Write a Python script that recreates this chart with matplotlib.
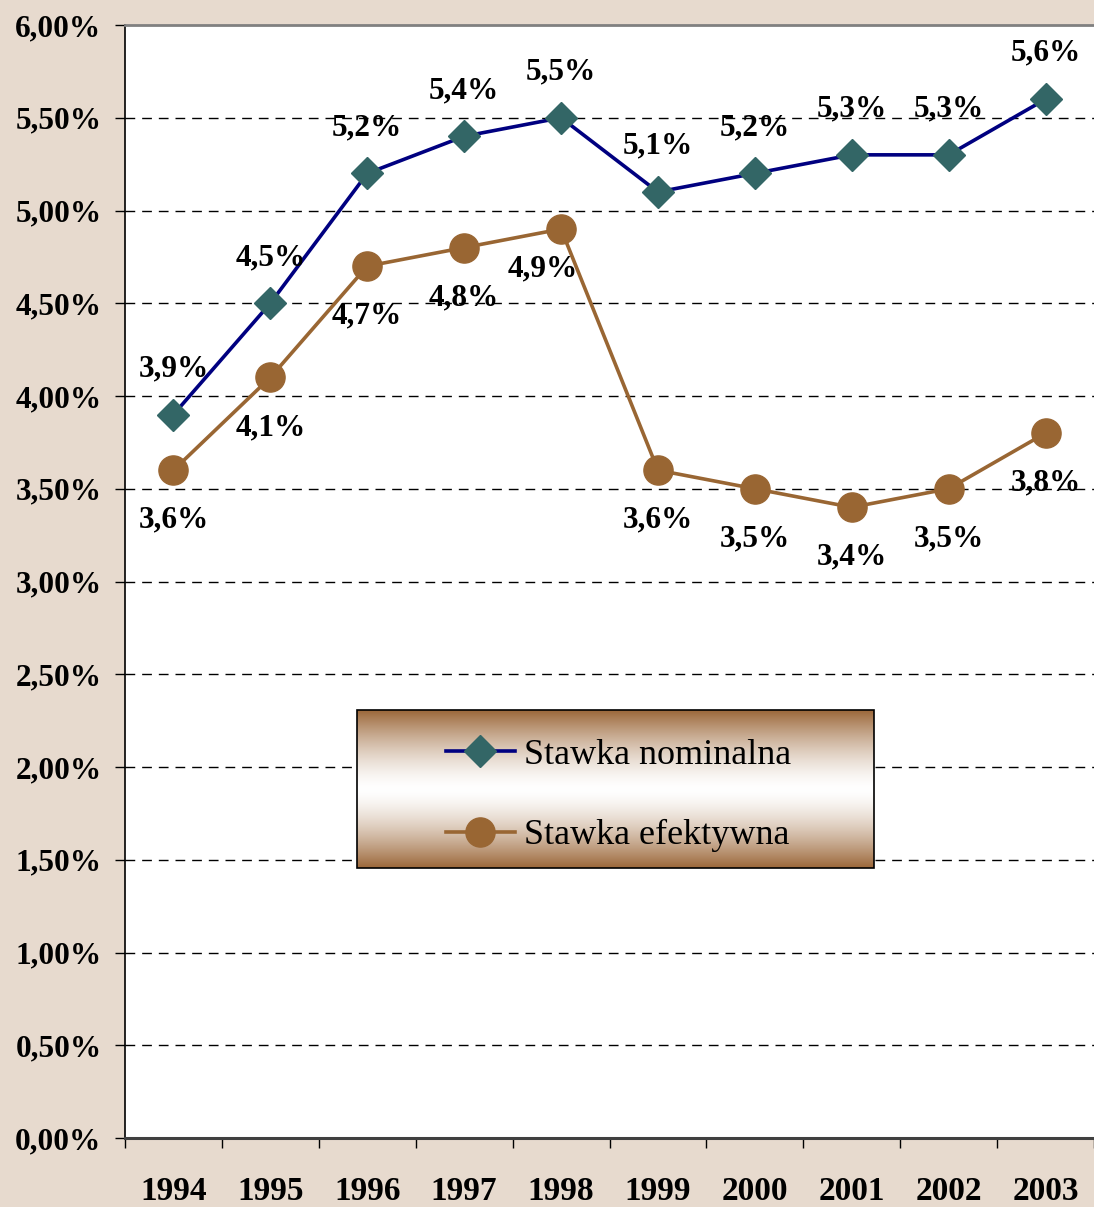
import numpy as np
import matplotlib
matplotlib.use("Agg")
import matplotlib.pyplot as plt
from matplotlib.lines import Line2D
from matplotlib.patches import Rectangle

years = ["1994", "1995", "1996", "1997", "1998", "1999", "2000", "2001", "2002", "2003"]
nominal = [3.9, 4.5, 5.2, 5.4, 5.5, 5.1, 5.2, 5.3, 5.3, 5.6]
effective = [3.6, 4.1, 4.7, 4.8, 4.9, 3.6, 3.5, 3.4, 3.5, 3.8]
yticks = [0, 0.5, 1.0, 1.5, 2.0, 2.5, 3.0, 3.5, 4.0, 4.5, 5.0, 5.5, 6.0]
series_names = ["Stawka nominalna", "Stawka efektywna"]

def pct(v, d):
    return (f"{v:.{d}f}%").replace(".", ",")

plt.rcParams['font.family'] = ['Liberation Serif', 'DejaVu Serif']

W, H = 1094, 1207
fig = plt.figure(figsize=(W / 100, H / 100), dpi=100, facecolor='#E7DACE')
ax = fig.add_axes([125 / W, 1 - 1138 / H, 1 - 125 / W, (1138 - 25) / H])
ax.set_facecolor('white')

x = np.arange(len(years))
ax.set_xlim(-0.5, len(years) - 0.5)
ax.set_ylim(0, 6)

# grid
for yv in yticks[1:-1]:
    ax.axhline(yv, color='black', lw=1, ls=(0, (7, 5)), zorder=1)

ax.plot(x, nominal, color='#000080', lw=2.6, marker='D', ms=16, mfc='#336666',
        mec='#336666', zorder=4, label=series_names[0])
ax.plot(x, effective, color='#996633', lw=2.6, marker='o', ms=21, mfc='#996633',
        mec='#996633', zorder=3, label=series_names[1])

lab_kw = dict(ha='center', va='center', fontsize=22.5, fontweight='bold',
              textcoords='offset points', zorder=6)
for i, v in enumerate(nominal):
    ax.annotate(pct(v, 1), (x[i], v), xytext=(0, 33), **lab_kw)
for i, v in enumerate(effective):
    dx, dy = (0, -36)
    if i == 4:
        dx, dy = (-13, -29)
    ax.annotate(pct(v, 1), (x[i], v), xytext=(dx, dy), **lab_kw)

# axes styling
ax.spines['right'].set_visible(False)
ax.spines['top'].set_color('#808080')
ax.spines['top'].set_linewidth(2)
ax.spines['left'].set_color('black')
ax.spines['left'].set_linewidth(1.2)
ax.spines['bottom'].set_color('#404040')
ax.spines['bottom'].set_linewidth(2.2)

ax.set_yticks(yticks)
ax.set_yticklabels([pct(v, 2) for v in yticks], fontsize=22.5, fontweight='bold')
ax.tick_params(axis='y', direction='out', length=7, width=1, pad=10)

ax.set_xticks(x)
ax.set_xticklabels(years, fontsize=24, fontweight='bold')
ax.set_xticks(np.arange(-0.5, len(years)), minor=True)
ax.tick_params(axis='x', which='major', length=0, pad=27)
ax.tick_params(axis='x', which='minor', direction='out', length=7, width=1)

# legend box with gradient
bx0, bx1 = 1.897, 7.226
by0, by1 = 1.456, 2.307
n = 200
t = np.abs(np.linspace(-1, 1, n))
t = t ** 1.5
brown = np.array([0x9C, 0x68, 0x3A]) / 255.0
white = np.array([1.0, 1.0, 1.0])
grad = (white[None, :] * (1 - t[:, None]) + brown[None, :] * t[:, None])[:, None, :]
ax.imshow(grad, extent=[bx0, bx1, by0, by1], aspect='auto', zorder=5, interpolation='bilinear')
ax.add_patch(Rectangle((bx0, by0), bx1 - bx0, by1 - by0, fill=False, ec='black', lw=1.2, zorder=7))
ax.set_xlim(-0.5, len(years) - 0.5)
ax.set_ylim(0, 6)

handles = [
    Line2D([], [], color='#000080', lw=2.6, marker='D', ms=16, mfc='#336666', mec='#336666'),
    Line2D([], [], color='#996633', lw=2.6, marker='o', ms=21, mfc='#996633', mec='#996633'),
]
leg = ax.legend(handles, series_names, loc='center', bbox_to_anchor=((bx0 + bx1) / 2 + 0.03, (by0 + by1) / 2 - 0.035),
                bbox_transform=ax.transData, frameon=False, fontsize=26, handlelength=1.9,
                labelspacing=1.3, handletextpad=0.25)
leg.set_zorder(8)

fig.savefig('out.png', dpi=100, facecolor=fig.get_facecolor())
